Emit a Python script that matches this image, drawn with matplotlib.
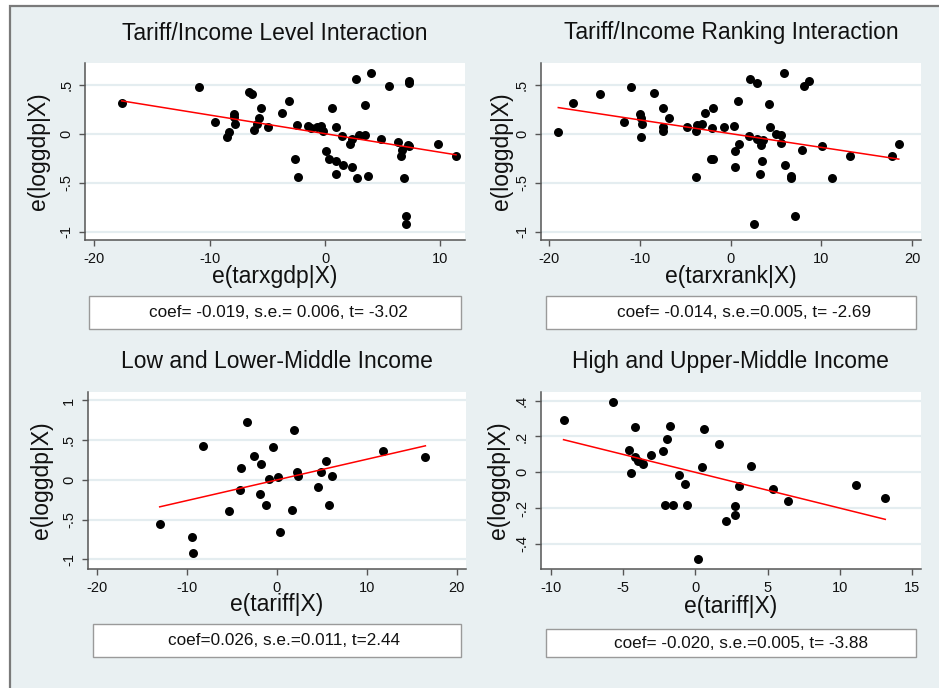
import numpy as np
import matplotlib
matplotlib.use("Agg")
import matplotlib.pyplot as plt
from matplotlib.patches import Rectangle

plt.rcParams['font.family'] = ['Liberation Sans', 'DejaVu Sans']

# ---------------- data: added-variable residuals ----------------
# Panel 1: e(tarxgdp|X) vs e(loggdp|X)
p1_x = [-17.62, -10.89, -9.50, -8.52, -8.32, -7.89, -7.89, -7.80, -6.56, -6.33,
        -5.55, -5.75, -5.92, -6.12, -4.97, -3.70, -3.09, -2.60, -2.34, -2.46,
        -1.50, -1.24, -0.66, -0.38, -0.20, 0.64, 0.95, 0.06, 0.38, 0.95,
        0.98, 1.50, 1.53, 2.20, 2.31, 2.34, 2.80, 2.69, 2.98, 3.50,
        3.50, 3.70, 3.99, 4.88, 5.52, 6.30, 6.56, 6.70, 6.87, 7.22,
        7.31, 7.25, 7.31, 7.02, 7.02, 9.82, 11.35]
p1_y = [0.310, 0.473, 0.116, -0.031, 0.020, 0.201, 0.167, 0.095, 0.422, 0.401,
        0.259, 0.156, 0.099, 0.034, 0.065, 0.207, 0.333, -0.259, -0.439, 0.085,
        0.082, 0.061, 0.071, 0.078, 0.031, 0.265, 0.071, -0.177, -0.262, -0.279,
        -0.412, -0.024, -0.323, -0.109, -0.054, -0.344, -0.456, 0.558, -0.014, -0.010,
        0.296, -0.432, 0.619, -0.058, 0.483, -0.088, -0.228, -0.167, -0.456, -0.116,
        -0.126, 0.534, 0.514, -0.837, -0.925, -0.109, -0.228]

# Panel 2: e(tarxrank|X) vs e(loggdp|X)
p2_x = [-19.01, -17.35, -14.41, -11.76, -10.99, -10.00, -9.93, -9.78, -9.89, -8.46,
        -7.43, -7.43, -7.43, -6.76, -4.78, -3.82, -3.75, -3.82, -3.16, -2.83,
        -2.21, -1.91, -1.91, -2.02, -0.70, 0.37, 0.48, 0.51, 0.77, 0.92,
        2.13, 2.06, 2.61, 2.87, 2.94, 3.24, 3.35, 3.49, 3.60, 4.19,
        4.34, 4.96, 5.51, 5.51, 5.88, 6.03, 6.62, 6.62, 7.13, 7.83,
        8.13, 8.68, 10.11, 11.14, 13.16, 17.76, 18.53]
p2_y = [0.017, 0.310, 0.401, 0.116, 0.473, 0.201, 0.163, 0.095, -0.031, 0.418,
        0.259, 0.065, 0.031, 0.156, 0.065, -0.439, 0.088, 0.031, 0.099, 0.207,
        -0.259, -0.262, 0.265, 0.054, 0.071, 0.078, -0.177, -0.344, 0.333, -0.109,
        0.558, -0.024, -0.925, 0.514, -0.054, -0.408, -0.116, -0.279, -0.065, 0.299,
        0.071, -0.007, -0.010, -0.092, 0.622, -0.323, -0.432, -0.456, -0.837, -0.167,
        0.483, 0.534, -0.126, -0.456, -0.228, -0.228, -0.109]

# Panel 3: low and lower-middle income, e(tariff|X) vs e(loggdp|X)
p3_x = [-13.00, -9.41, -9.26, -8.15, -5.30, -4.07, -3.93, -3.30, -2.56, -1.70,
        -1.85, -1.15, -0.89, -0.44, 0.11, 0.41, 1.67, 1.89, 2.26, 2.33,
        4.59, 4.96, 5.52, 5.81, 6.11, 11.81, 16.52]
p3_y = [-0.558, -0.717, -0.921, 0.428, -0.390, -0.121, 0.151, 0.733, 0.301, 0.205,
        -0.176, -0.318, 0.017, 0.418, 0.042, -0.653, -0.381, 0.632, 0.100, 0.055,
        -0.088, 0.100, 0.235, -0.314, 0.046, 0.365, 0.289]

# Panel 4: high and upper-middle income, e(tariff|X) vs e(loggdp|X)
p4_x = [-9.11, -5.67, -4.61, -4.45, -4.20, -4.18, -3.94, -3.64, -3.04, -2.21,
        -2.10, -1.96, -1.73, -1.52, -1.11, -0.72, -0.55, 0.21, 0.46, 0.62,
        1.64, 2.10, 2.75, 2.75, 3.05, 3.83, 5.35, 6.44, 11.12, 13.13]
p4_y = [0.290, 0.393, 0.123, -0.004, 0.253, 0.084, 0.063, 0.045, 0.097, 0.119,
        -0.184, 0.188, 0.260, -0.184, -0.017, -0.067, -0.184, -0.486, 0.032, 0.240,
        0.158, -0.270, -0.188, -0.240, -0.074, 0.037, -0.093, -0.162, -0.073, -0.145]

# Regression statistics
coefs = [-0.019, -0.014, 0.026, -0.020]
stat_texts = ["coef= -0.019, s.e.= 0.006, t= -3.02",
              "coef= -0.014, s.e.=0.005, t= -2.69",
              "coef=0.026, s.e.=0.011, t=2.44",
              "coef= -0.020, s.e.=0.005, t= -3.88"]

titles = ["Tariff/Income Level Interaction", "Tariff/Income Ranking Interaction",
          "Low and Lower-Middle Income", "High and Upper-Middle Income"]
xlabels = ["e(tarxgdp|X)", "e(tarxrank|X)", "e(tariff|X)", "e(tariff|X)"]
ylabel = "e(loggdp|X)"

xticks = [[-20, -10, 0, 10], [-20, -10, 0, 10, 20], [-20, -10, 0, 10, 20],
          [-10, -5, 0, 5, 10, 15]]
yticks = [[-1, -0.5, 0, 0.5], [-1, -0.5, 0, 0.5], [-1, -0.5, 0, 0.5, 1],
          [-0.4, -0.2, 0, 0.2, 0.4]]
ytick_labels = [["-1", "-.5", "0", ".5"], ["-1", "-.5", "0", ".5"],
                ["-1", "-.5", "0", ".5", "1"], ["-.4", "-.2", "0", ".2", ".4"]]

# ---------------- layout ----------------
W, H = 939, 688
BG = '#e9f0f2'
GRID = '#e4edf0'
AXC = '#555555'
TXT = '#111111'

fig = plt.figure(figsize=(W / 100, H / 100), dpi=100, facecolor='white')

# graph region with its frame
fig.patches.append(Rectangle((10 / W, -0.05), 1.1, 1 - 6 / H + 0.05,
                             transform=fig.transFigure, facecolor=BG,
                             edgecolor='#7a7a7a', linewidth=1.6, zorder=-10))


def px_axes(x0, y0, x1, y1):
    return fig.add_axes([x0 / W, 1 - y1 / H, (x1 - x0) / W, (y1 - y0) / H])


def px_box(x0, y0, x1, y1, text, tx):
    fig.patches.append(Rectangle((x0 / W, 1 - y1 / H), (x1 - x0) / W, (y1 - y0) / H,
                                 transform=fig.transFigure, facecolor='white',
                                 edgecolor='#9a9a9a', linewidth=1.0, zorder=1))
    fig.text(tx / W, 1 - (y0 + y1) / 2 / H, text, ha='center', va='center',
             fontsize=12.3, color=TXT, zorder=2)


axes_px = [(85, 63.3, 465, 240), (540.7, 63.3, 921, 240),
           (87.7, 391.7, 465.7, 568.7), (540.7, 391.7, 921, 568.7)]
xlims = [(-20.8, 12.13), (-20.95, 20.98), (-21, 21), (-10.69, 15.6)]
ylims = [(-1.085, 0.718), (-1.085, 0.718), (-1.116, 1.11), (-0.538, 0.45)]
ylabel_x = [-0.123, -0.103, -0.122, -0.112]
xlabel_y = [-0.204, -0.204, -0.205, -0.214]
boxes = [(89.3, 295.7, 461, 329.3, 278), (546, 295.7, 916, 329.3, 743.7),
         (92.7, 624, 461, 657.3, 284), (546, 628.7, 916, 657.3, 741)]
title_y = [33, 33, 361.7, 361.7]

data = [(p1_x, p1_y), (p2_x, p2_y), (p3_x, p3_y), (p4_x, p4_y)]

for i in range(4):
    ax = px_axes(*axes_px[i])
    ax.set_zorder(2)
    x = np.asarray(data[i][0])
    y = np.asarray(data[i][1])
    ax.set_facecolor('white')
    ax.scatter(x, y, s=42, color='black', zorder=3, linewidths=0)
    xs = np.array([x.min(), x.max()])
    ax.plot(xs, coefs[i] * xs, color='red', linewidth=1.1, zorder=4)

    ax.set_xlim(*xlims[i])
    ax.set_ylim(*ylims[i])
    ax.set_xticks(xticks[i])
    ax.set_xticklabels([str(v) for v in xticks[i]])
    ax.set_yticks(yticks[i])
    ax.set_yticklabels(ytick_labels[i], rotation=90, va='center')
    ax.grid(axis='y', color=GRID, linewidth=1.6, zorder=0)
    ax.set_axisbelow(True)
    for side in ['top', 'right']:
        ax.spines[side].set_visible(False)
    for side in ['left', 'bottom']:
        ax.spines[side].set_color(AXC)
        ax.spines[side].set_linewidth(1.1)
    ax.tick_params(direction='out', length=4.5, width=1.0, color=AXC,
                   labelsize=10.5, labelcolor=TXT, pad=4)

    ax.set_xlabel(xlabels[i], fontsize=16.5, color=TXT)
    ax.xaxis.set_label_coords(0.5, xlabel_y[i])
    ax.xaxis.label.set_va('center')
    ax.set_ylabel(ylabel, fontsize=16.5, color=TXT)
    ax.yaxis.set_label_coords(ylabel_x[i], 0.5)
    ax.yaxis.label.set_va('center')

    cx = (axes_px[i][0] + axes_px[i][2]) / 2
    fig.text(cx / W, 1 - title_y[i] / H, titles[i], ha='center', va='center',
             fontsize=16.5, color=TXT)

    bx0, by0, bx1, by1, tx = boxes[i]
    px_box(bx0, by0, bx1, by1, stat_texts[i], tx)

fig.savefig("out.png", dpi=100, facecolor='white')
